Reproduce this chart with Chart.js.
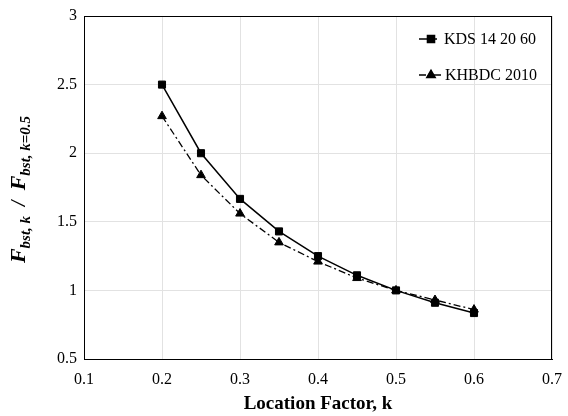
<!DOCTYPE html>
<html>
<head>
<meta charset="utf-8">
<script src="https://cdn.jsdelivr.net/npm/chart.js@4/dist/chart.umd.min.js"></script>
<style>
	html, body { margin: 0; padding: 0; background: #fff; }
	#wrap { width: 568px; height: 416px; }
</style>
</head>
<body>
<div id="wrap"><canvas id="chart"></canvas></div>
<script>
// location factor k
const kValues = [0.2, 0.25, 0.3, 0.35, 0.4, 0.45, 0.5, 0.55, 0.6];
// F_bst,k / F_bst,k=0.5
const kdsValues = [2.5, 2.0, 1.667, 1.43, 1.25, 1.11, 1.0, 0.91, 0.835];
const khbdcValues = [2.27, 1.84, 1.56, 1.35, 1.21, 1.09, 1.0, 0.93, 0.86];
const seriesNames = ["KDS 14 20 60", "KHBDC 2010"];
const xTicks = [0.1, 0.2, 0.3, 0.4, 0.5, 0.6, 0.7];
const yTicks = [0.5, 1, 1.5, 2, 2.5, 3];

const serif = "'Liberation Serif', 'Times New Roman', serif";

const toPoints = (ys) => kValues.map((k, i) => ({ x: k, y: ys[i] }));

// keep the plot area fixed, no extra room for edge labels
const noEdgePadding = (s) => {
	s.paddingLeft = 0;
	s.paddingRight = 0;
	s.paddingTop = 0;
	s.paddingBottom = 0;
};

// legend drawn inside the plot, line + marker like the original
const insideLegend = {
	id: "insideLegend",
	afterDraw(chart) {
		const ctx = chart.ctx;
		const rows = [39, 75];
		chart.data.datasets.forEach((ds, i) => {
			const y = rows[i];
			ctx.save();
			ctx.strokeStyle = "#000";
			ctx.lineWidth = ds.borderWidth;
			ctx.setLineDash(ds.borderDash || []);
			ctx.beginPath();
			ctx.moveTo(419, y);
			ctx.lineTo(i === 0 ? 437 : 443, y);
			ctx.stroke();
			ctx.setLineDash([]);
			Chart.helpers.drawPoint(ctx, {
				pointStyle: ds.pointStyle,
				radius: ds.pointRadius,
				borderWidth: 1,
			}, 431, y);
			ctx.fill();
			ctx.fillStyle = "#000";
			ctx.font = "16px " + serif;
			ctx.textBaseline = "middle";
			ctx.fillText(ds.label, i === 0 ? 444 : 445, y + 1);
			ctx.restore();
		});
	},
};

// box around the plot area
const plotBox = {
	id: "plotBox",
	beforeDatasetsDraw(chart) {
		const { ctx, chartArea: a } = chart;
		ctx.save();
		ctx.strokeStyle = "#000";
		ctx.lineWidth = 1;
		ctx.strokeRect(Math.round(a.left) + 0.5, Math.round(a.top) + 0.5,
			Math.round(a.right - a.left) - 1, Math.round(a.bottom - a.top));
		ctx.restore();
	},
};

// y title with subscripts, rotated
const yTitle = {
	id: "yTitle",
	afterDraw(chart) {
		const ctx = chart.ctx;
		const a = chart.chartArea;
		const parts = [
			{ t: "F", size: 22, dy: 0 },
			{ t: "bst, k", size: 15, dy: 5 },
			{ t: "  /  ", size: 20, dy: 0 },
			{ t: "F", size: 22, dy: 0 },
			{ t: "bst, k=0.5", size: 15, dy: 5 },
		];
		ctx.save();
		let total = 0;
		parts.forEach((p) => {
			ctx.font = "italic bold " + p.size + "px " + serif;
			p.w = ctx.measureText(p.t).width;
			total += p.w;
		});
		ctx.translate(25, (a.top + a.bottom) / 2 + 2);
		ctx.rotate(-Math.PI / 2);
		ctx.fillStyle = "#000";
		ctx.textBaseline = "alphabetic";
		let x = -total / 2;
		parts.forEach((p) => {
			ctx.font = "italic bold " + p.size + "px " + serif;
			ctx.fillText(p.t, x, p.dy);
			x += p.w;
		});
		ctx.restore();
	},
};

new Chart(document.getElementById("chart"), {
	type: "line",
	data: {
		datasets: [
			{
				label: seriesNames[0],
				data: toPoints(kdsValues),
				borderColor: "#000",
				backgroundColor: "#000",
				borderWidth: 1.5,
				pointStyle: "rect",
				pointRadius: 5,
				pointBorderWidth: 1,
				tension: 0,
			},
			{
				label: seriesNames[1],
				data: toPoints(khbdcValues),
				borderColor: "#000",
				backgroundColor: "#000",
				borderWidth: 1.3,
				borderDash: [7, 3, 2, 3],
				pointStyle: "triangle",
				pointRadius: 5,
				pointBorderWidth: 1,
				tension: 0,
			},
		],
	},
	options: {
		responsive: true,
		maintainAspectRatio: false,
		animation: false,
		layout: { padding: { top: 16, right: 16, left: 0, bottom: 0 } },
		plugins: {
			legend: { display: false },
			tooltip: { enabled: false },
		},
		scales: {
			x: {
				type: "linear",
				min: 0.1,
				max: 0.7,
				afterBuildTicks: (s) => { s.ticks = xTicks.map((v) => ({ value: v })); },
				afterFit: (s) => { s.height = 57; noEdgePadding(s); },
				ticks: {
					color: "#000",
					font: { family: serif, size: 16 },
					padding: 11,
					maxRotation: 0,
					callback: (v) => v.toFixed(1),
				},
				grid: { color: "#e2e2e2", drawTicks: false },
				border: { color: "#000", width: 1 },
				title: {
					display: true,
					text: "Location Factor, k",
					color: "#000",
					font: { family: serif, size: 19, weight: "bold" },
					padding: { top: 0, bottom: 1 },
				},
			},
			y: {
				type: "linear",
				min: 0.5,
				max: 3,
				afterBuildTicks: (s) => { s.ticks = yTicks.map((v) => ({ value: v })); },
				afterFit: (s) => { s.width = 84; noEdgePadding(s); },
				ticks: {
					color: "#000",
					font: { family: serif, size: 16 },
					padding: 7,
					callback: (v) => String(v),
				},
				grid: { color: "#e2e2e2", drawTicks: false },
				border: { color: "#000", width: 1 },
			},
		},
	},
	plugins: [plotBox, insideLegend, yTitle],
});
</script>
</body>
</html>
